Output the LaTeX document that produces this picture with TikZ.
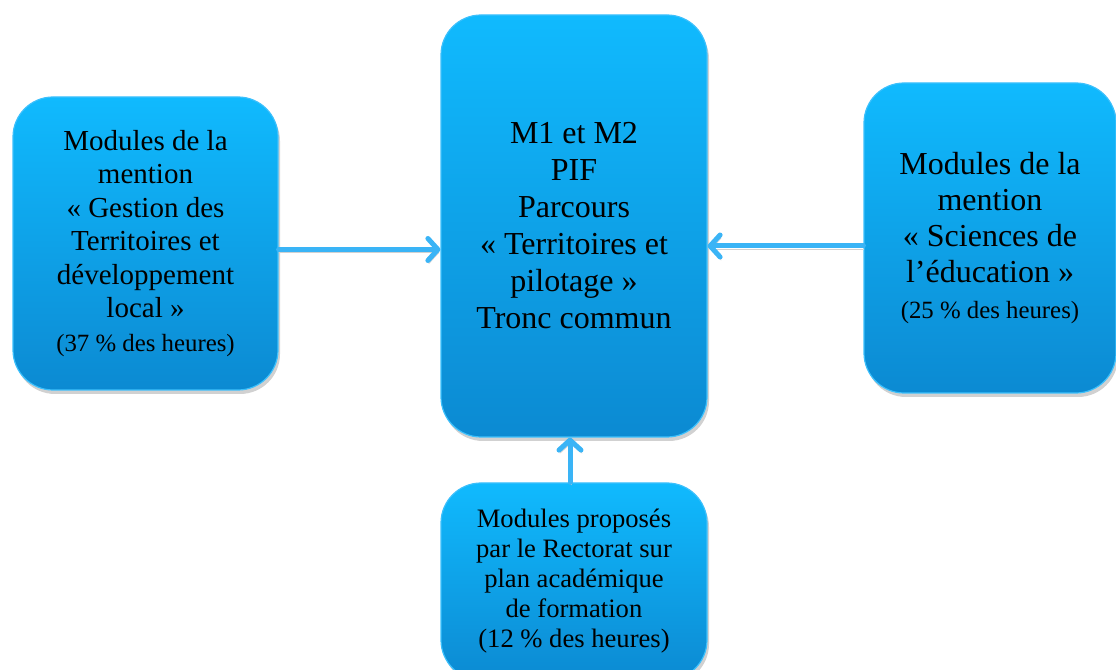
\documentclass[tikz,border=0pt]{standalone}
\usepackage{fontspec}
\setmainfont{Liberation Serif}
\usepackage{xcolor}
\usetikzlibrary{arrows.meta,shadows}

\definecolor{bleuhaut}{RGB}{16,186,254}
\definecolor{bleubas}{RGB}{12,138,210}
\definecolor{bleubord}{RGB}{60,192,252}
\definecolor{bleutrait}{RGB}{58,180,246}

\tikzset{
  bloc/.style={rectangle, rounded corners=20pt, draw=bleubord, line width=0.6pt,
    top color=bleuhaut, bottom color=bleubas, align=center, inner sep=2pt,
    drop shadow={shadow xshift=1pt, shadow yshift=-2pt, fill=black!30, opacity=0.6}},
  fleche/.style={-{Straight Barb[round,length=5pt,width=11pt]}, line width=2.5pt,
    bleutrait, line cap=round,
    preaction={draw=black!18, transform canvas={xshift=0.5pt,yshift=-1.5pt}}}
}

\begin{document}
\begin{tikzpicture}[x=1pt,y=1pt]
\useasboundingbox (0,0) rectangle (558,335);
% blocs
\node [bloc, minimum width=132.5pt, minimum height=146.5pt,
  font=\fontsize{14.5}{16.75}\selectfont] (gestion) at (72.75,213.25)
  {Modules de la\\ mention\\ « Gestion des\\ Territoires et\\ développement\\
   local »\\ \fontsize{12.4}{16.75}\selectfont (37~\% des heures)};
\node [bloc, minimum width=133pt, minimum height=211pt,
  font=\fontsize{16}{18.5}\selectfont] (tronc) at (287,222)
  {M1 et M2\\ PIF\\ Parcours\\ « Territoires et\\ pilotage »\\ Tronc commun};
\node [bloc, minimum width=126pt, minimum height=155pt,
  font=\fontsize{16}{18}\selectfont] (sciences) at (495,216)
  {Modules de la\\ mention\\ « Sciences de\\ l’éducation »\\
   \fontsize{12.4}{17.5}\selectfont (25~\% des heures)};
\node [bloc, minimum width=133pt, minimum height=98.5pt,
  font=\fontsize{13.3}{15}\selectfont] (rectorat) at (287,44.25)
  {Modules proposés\\ par le Rectorat sur\\ plan académique\\ de formation\\
   (12~\% des heures)};
% flèches
\draw [fleche] ([yshift=-3pt]gestion.east) -- ([yshift=-3pt]gestion.east -| tronc.west);
\draw [fleche] ([yshift=-4pt]sciences.west) -- ([yshift=-4pt]sciences.west -| tronc.east);
\draw [fleche] ([xshift=-2pt]rectorat.north) -- ([xshift=-2pt]tronc.south);
\end{tikzpicture}
\end{document}
